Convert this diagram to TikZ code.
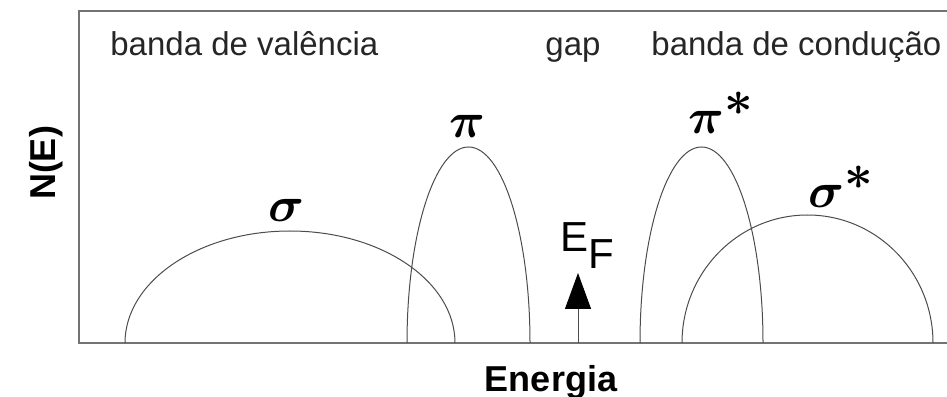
\documentclass[tikz,border=0pt]{standalone}
\usepackage{fontspec}
\setmainfont{Liberation Sans}
\usetikzlibrary{arrows.meta}
\tikzset{
  frame/.style={draw=black!55, line width=0.7pt},
  band/.style={draw=black!70, line width=0.5pt},
  label/.style={font=\fontsize{16.5}{18}\selectfont, text=black!85, inner sep=0pt},
  orbital/.style={font=\fontsize{27}{28}\selectfont\boldmath, inner sep=0pt},
  axislabel/.style={font=\fontsize{18}{20}\selectfont\bfseries, inner sep=0pt},
}
\begin{document}
\begin{tikzpicture}[x=0.5pt, y=0.5pt]
    \useasboundingbox (0,0) rectangle (947,396);
    \draw[frame] (947,385)--(79,385)--(79,53)--(947,53);
    % bands
    \draw[band] (125,53) arc [start angle=180, end angle=0, x radius=165, y radius=112];
    \draw[band] (407,53) arc [start angle=180, end angle=0, x radius=61.5, y radius=196];
    \draw[band] (640,53) arc [start angle=180, end angle=0, x radius=61.5, y radius=196];
    \draw[band] (682,53) arc [start angle=180, end angle=0, x radius=125.5, y radius=128];
    % Fermi level
    \coordinate (efbase) at (578,53);
    \coordinate (eftip) at (578,123);
    \draw[band, -{Triangle[length=18pt, width=13pt, color=black]}] (efbase)--(eftip);
    \node[label, font=\fontsize{21}{22}\selectfont, text=black, anchor=base west] (ef) at (560,144) {E\raisebox{-0.4em}{F}};
    \node[orbital] (sigma) at (286,186) {$\sigma$};
    \node[orbital] (pi) at (467,270) {$\pi$};
    \node[orbital, anchor=base west] (pistar) at (688,262) {$\pi^{\textstyle *}$};
    \node[orbital, anchor=base west] (sigmastar) at (808,188) {$\sigma^{\textstyle *}$};
    \node[label, anchor=base west] (valencia) at (110,340) {banda de valência};
    \node[label, anchor=base west] (gap) at (545,340) {gap};
    \node[label, anchor=base west] (conducao) at (651,340) {banda de condução};
    \node[axislabel, rotate=90] (ne) at (46,233) {N(E)};
    \node[axislabel] (energia) at (551,14) {Energia};
\end{tikzpicture}
\end{document}
